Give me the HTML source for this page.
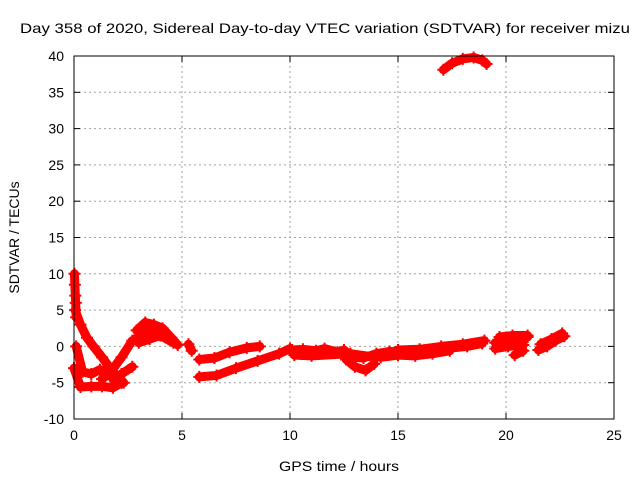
<!DOCTYPE html>
<html><head><meta charset="utf-8"><style>
body{margin:0;background:#fff;width:640px;height:480px;overflow:hidden}
svg text{font-family:"Liberation Sans",sans-serif;font-size:14px;fill:#000}
</style></head><body>
<svg id="c" width="640" height="480" xmlns="http://www.w3.org/2000/svg"></svg>
<script>
const xTicks=[0,5,10,15,20,25];
const yTicks=[-10,-5,0,5,10,15,20,25,30,35,40];
const trackA_t=[0.05,0.3,0.6,0.9,1.3,1.8,2.3];
const trackA_v=[5,3,1.2,0,-1.5,-3.5,-5];
const trackB_t=[0.1,0.4,0.8,1.2,1.6];
const trackB_v=[0,-3.5,-3.8,-3.2,-3.6];
const trackC_t=[0.0,0.3,0.8,1.3,1.8,2.2];
const trackC_v=[-3,-5.6,-5.5,-5.5,-5.7,-5];
const trackD_t=[1.3,1.7,2.2,2.7];
const trackD_v=[-4.5,-3.5,-1.5,0.8];
const trackE_t=[1.8,2.2,2.7];
const trackE_v=[-4.5,-3.8,-2.8];
const trackF_t=[0.02,0.04,0.06,0.08,0.1];
const trackF_v=[10,8.5,7,6,4];
const trackG_t=[2.9,3.3,3.7,4.1,4.5,4.8];
const trackG_v=[2.2,3.3,3.0,2.5,1.2,0.2];
const trackG2_t=[3.0,3.5,4.0,4.6];
const trackG2_v=[0.5,1.0,1.5,0.5];
const trackG3_t=[3.0,3.5,4.0,4.5];
const trackG3_v=[1.5,2.2,1.8,1.2];
const trackH_t=[5.3,5.45];
const trackH_v=[0.3,-0.6];
const trackI_t=[5.8,6.6,7.5,8.5,9.5,10];
const trackI_v=[-4.2,-4,-3,-2,-1,-0.3];
const trackJ_t=[5.8,6.5,7.2,8,8.6];
const trackJ_v=[-1.8,-1.6,-0.8,-0.2,0];
const trackK_t=[10.1,10.6,11.2,11.6,12.2,12.5,12.9,13.4,14,14.6,15.2,16,16.8,17.5,18.2,18.9];
const trackK_v=[-0.5,-0.4,-0.6,-0.3,-0.8,-0.5,-1.5,-1.6,-1.0,-0.7,-0.8,-0.6,-0.3,-0.2,0.0,0.4];
const trackK2_t=[10.2,11,12.8,14,15,16,17,18,19];
const trackK2_v=[-1.2,-1.3,-1.0,-1.5,-0.5,-0.4,0.0,0.3,0.8];
const trackL_t=[12.6,13.0,13.5,13.9];
const trackL_v=[-1.8,-2.8,-3.3,-2.4];
const trackM_t=[14.2,15,15.8,16.6,17.4];
const trackM_v=[-1.5,-1.2,-1.3,-1.0,-0.6];
const trackN_t=[19.5,20,20.5,21];
const trackN_v=[0.5,0.8,1.2,1.3];
const trackN2_t=[19.5,20.1,20.8];
const trackN2_v=[-0.3,0.0,0.2];
const trackN3_t=[19.7,20.3,21];
const trackN3_v=[1.3,1.5,1.5];
const trackO_t=[20.4,20.8];
const trackO_v=[-1.2,-0.6];
const trackP_t=[21.5,21.9,22.3,22.7];
const trackP_v=[-0.5,0.0,0.8,1.4];
const trackP2_t=[21.6,22.1,22.6];
const trackP2_v=[0.3,1.0,1.8];
const trackQ_t=[17.1,17.5,18.0,18.5,18.9,19.1];
const trackQ_v=[38.1,39.0,39.6,39.8,39.4,38.9];
const tracks=[[trackA_t,trackA_v],[trackB_t,trackB_v],[trackC_t,trackC_v],[trackD_t,trackD_v],[trackE_t,trackE_v],[trackG_t,trackG_v],[trackG2_t,trackG2_v],[trackG3_t,trackG3_v],[trackH_t,trackH_v],[trackI_t,trackI_v],[trackJ_t,trackJ_v],[trackK_t,trackK_v],[trackK2_t,trackK2_v],[trackL_t,trackL_v],[trackM_t,trackM_v],[trackN_t,trackN_v],[trackN2_t,trackN2_v],[trackN3_t,trackN3_v],[trackO_t,trackO_v],[trackP_t,trackP_v],[trackP2_t,trackP2_v],[trackQ_t,trackQ_v],[trackF_t,trackF_v]];
const L=74,R=614,T=56,B=419;
const X=t=>L+(t-0)/25*(R-L);
const Y=v=>B-(v+10)/50*(B-T);
const svg=document.getElementById('c');
const NS='http://www.w3.org/2000/svg';
function mk(tag,attrs,parent){const e=document.createElementNS(NS,tag);for(const k in attrs)e.setAttribute(k,attrs[k]);(parent||svg).appendChild(e);return e;}
const grid=mk('g',{});


xTicks.forEach(t=>{const x=X(t);
 if(t>0&&t<25)mk('line',{x1:x,y1:T,x2:x,y2:B,stroke:'#a0a0a0','stroke-dasharray':'2,3'},grid);
 mk('line',{x1:x,y1:B,x2:x,y2:B-6,stroke:'#000'},grid);mk('line',{x1:x,y1:T,x2:x,y2:T+6,stroke:'#000'},grid);
 const tx=mk('text',{x:x,y:B+21,'text-anchor':'middle'});tx.textContent=t;
 
 });
yTicks.forEach(v=>{const y=Y(v);
 if(v>-10&&v<40)mk('line',{x1:L,y1:y,x2:R,y2:y,stroke:'#a0a0a0','stroke-dasharray':'2,3'},grid);
 mk('line',{x1:L,y1:y,x2:L+6,y2:y,stroke:'#000'},grid);mk('line',{x1:R,y1:y,x2:R-6,y2:y,stroke:'#000'},grid);
 const tx=mk('text',{x:L-10,y:y+5,'text-anchor':'end'});tx.textContent=v;
 
 });
const data=mk('g',{});


tracks.forEach(([ts,vs])=>{
 const pts=ts.map((t,i)=>X(t)+','+Y(vs[i])).join(' ');
 const pl=mk('polyline',{points:pts,fill:'none',stroke:'#f00','stroke-width':9,'stroke-linejoin':'round','stroke-linecap':'round'},data);
 
 
 ts.forEach((t,i)=>{const x=X(t),y=Y(vs[i]);
  const p=mk('path',{d:`M${x-6},${y}H${x+6}M${x},${y-6}V${y+6}`,stroke:'#f00','stroke-width':2},data);
  
  });
});
const fr=mk('rect',{x:L,y:T,width:R-L,height:B-T,fill:'none',stroke:'#000'});


const ttl=mk('text',{x:20,y:33,textLength:610,lengthAdjust:'spacingAndGlyphs'});ttl.textContent='Day 358 of 2020, Sidereal Day-to-day VTEC variation (SDTVAR) for receiver mizu';


const xl=mk('text',{x:279,y:471,textLength:120,lengthAdjust:'spacingAndGlyphs'});xl.textContent='GPS time / hours';


const yl=mk('text',{x:0,y:0,'text-anchor':'middle',transform:`translate(19,${(T+B)/2}) rotate(-90)`});yl.textContent='SDTVAR / TECUs';


</script>
</body></html>
